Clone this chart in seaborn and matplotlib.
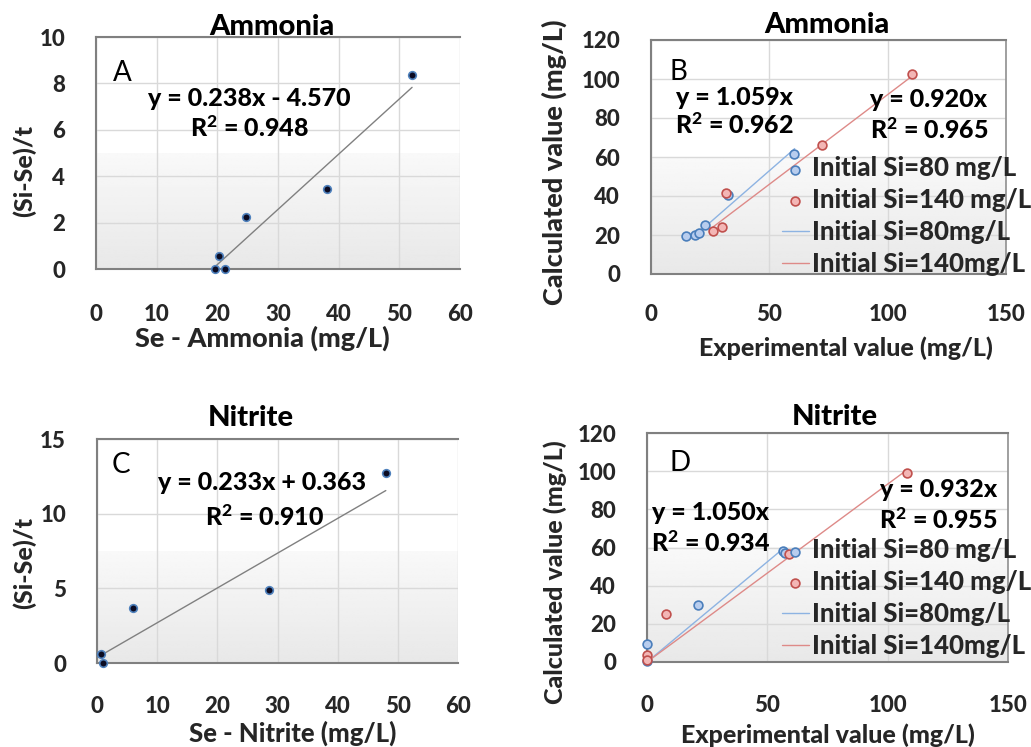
import numpy as np
import pandas as pd
import matplotlib
matplotlib.use("Agg")
import matplotlib.pyplot as plt
import seaborn as sns

# ---------------- data ----------------
# Panel A: Ammonia
a_x = [19.6, 21.3, 20.3, 24.7, 38.1, 52.1]
a_y = [0.0, 0.0, 0.55, 2.25, 3.45, 8.35]
a_slope, a_icpt = 0.238, -4.570
a_eq = ["y = 0.238x - 4.570", "R$^2$ = 0.948"]

# Panel B: Ammonia, calculated vs experimental
b80_x = [14.7, 18.5, 20.2, 22.9, 32.7, 60.4]
b80_y = [19.6, 20.0, 20.9, 25.0, 40.5, 61.5]
b140_x = [26.3, 30.2, 31.6, 72.3, 110.3]
b140_y = [22.1, 23.9, 41.7, 66.2, 102.6]
b80_slope, b140_slope = 1.059, 0.920
b80_fit_range = [23.0, 60.7]
b140_fit_range = [26.3, 110.3]
b_eq80 = ["y = 1.059x", "R$^2$ = 0.962"]
b_eq140 = ["y = 0.920x", "R$^2$ = 0.965"]

# Panel C: Nitrite
c_x = [0.6, 1.0, 6.0, 28.6, 48.0]
c_y = [0.6, 0.0, 3.7, 4.9, 12.7]
c_slope, c_icpt = 0.233, 0.363
c_fit_range = [0.0, 48.0]
c_eq = ["y = 0.233x + 0.363", "R$^2$ = 0.910"]

# Panel D: Nitrite, calculated vs experimental
d80_x = [0.0, 0.0, 21.0, 56.5, 57.5]
d80_y = [0.3, 9.6, 29.9, 58.0, 57.0]
d140_x = [0.0, 0.0, 8.0, 58.9, 108.1]
d140_y = [3.5, 0.9, 25.2, 56.7, 99.0]
d80_slope, d140_slope = 1.050, 0.932
d80_fit_range = [0.0, 56.3]
d140_fit_range = [0.0, 108.1]
d_eq80 = ["y = 1.050x", "R$^2$ = 0.934"]
d_eq140 = ["y = 0.932x", "R$^2$ = 0.955"]

legend_labels = ["Initial Si=80 mg/L", "Initial Si=140 mg/L",
                 "Initial Si=80mg/L", "Initial Si=140mg/L"]

# ---------------- style ----------------
sns.set_style("white")
plt.rcParams["font.family"] = ["Lato", "DejaVu Sans"]
plt.rcParams["font.weight"] = "black"
plt.rcParams["mathtext.default"] = "regular"

W, H = 1031, 747
fig = plt.figure(figsize=(W / 100, H / 100), dpi=100)

def px_axes(l, t, r, b):
    return fig.add_axes([l / W, (H - b) / H, (r - l) / W, (b - t) / H])

WT = "black"
TICK_FS = 16
TITLE_FS = 21
EQ_FS = 18
LEG_FS = 18.5
LET_FS = 20

BLUE_EDGE = "#4a7ebb"
BLUE_FACE = "#b8cdee"
RED_EDGE = "#c0504d"
RED_FACE = "#f3b6b5"
BLUE_LINE = "#8db3e2"
RED_LINE = "#de8a88"


def style_axes(ax, xlim, xticks, ylim, yticks, right_spine, xpad_px, ypad_px):
    ax.set_xlim(*xlim)
    ax.set_ylim(*ylim)
    ax.set_xticks(xticks)
    ax.set_yticks(yticks)
    ax.set_xticklabels([str(t) for t in xticks])
    ax.set_yticklabels([str(t) for t in yticks])
    for t in ax.get_xticklabels() + ax.get_yticklabels():
        t.set_fontsize(TICK_FS)
        t.set_fontweight(WT)
    ax.tick_params(axis="x", length=0, pad=xpad_px * 0.72)
    ax.tick_params(axis="y", length=0, pad=ypad_px * 0.72)
    ax.grid(True, color="#d9d9d9", linewidth=1.0)
    ax.set_axisbelow(True)
    for s in ["left", "top", "bottom"]:
        ax.spines[s].set_color("#808080")
        ax.spines[s].set_linewidth(1.5)
    ax.spines["right"].set_visible(right_spine)
    ax.spines["right"].set_color("#909090")
    ax.spines["right"].set_linewidth(1.2)
    # soft gray gradient in lower half of the plot area
    grad = np.linspace(0.91, 0.975, 64).reshape(-1, 1)
    ax.imshow(grad, cmap="gray", vmin=0, vmax=1, aspect="auto",
              extent=[0, 1, 0, 0.5], transform=ax.transAxes, origin="lower",
              zorder=0, interpolation="bilinear")
    ax.set_xlim(*xlim)
    ax.set_ylim(*ylim)


def labels(ax, xl, xlc, xfs, yl, ylc, yfs):
    ax.set_xlabel(xl, fontsize=xfs, fontweight=WT)
    ax.set_ylabel(yl, fontsize=yfs, fontweight=WT)
    ax.xaxis.set_label_coords(*xlc)
    ax.yaxis.set_label_coords(*ylc)
    ax.xaxis.label.set_va("center")
    ax.yaxis.label.set_va("center")


def txt(ax, x, y, s, fs=EQ_FS, weight=WT):
    ax.text(x, y, s, transform=ax.transAxes, ha="center", va="center",
            fontsize=fs, fontweight=weight, color="black", zorder=6)


# ---------------- Panel A ----------------
axA = px_axes(96, 37, 460, 269)
fitA_x = np.array([min(a_x), max(a_x)])
sns.lineplot(x=fitA_x, y=a_slope * fitA_x + a_icpt, ax=axA, color="#808080",
             linewidth=1.0, zorder=3)
sns.scatterplot(x=a_x, y=a_y, ax=axA, color="#0b0b22", edgecolor="#4f81bd",
                linewidth=1.2, s=30, zorder=4, clip_on=False)
style_axes(axA, (0, 60), [0, 10, 20, 30, 40, 50, 60], (0, 10), [0, 2, 4, 6, 8, 10],
           False, 35, 31)
labels(axA, "Se - Ammonia (mg/L)", (0.456, -0.297), 19.5,
       "(Si-Se)/t", (-0.198, 0.422), 18)
txt(axA, 0.484, 1.043, "Ammonia", fs=TITLE_FS)
txt(axA, 0.071, 0.845, "A", fs=LET_FS, weight="normal")
txt(axA, 0.420, 0.737, a_eq[0])
txt(axA, 0.420, 0.608, a_eq[1])

# ---------------- Panel B ----------------
axB = px_axes(651, 40, 1006, 274)
sns.scatterplot(x=b80_x, y=b80_y, ax=axB, color=BLUE_FACE, edgecolor=BLUE_EDGE,
                linewidth=1.2, s=40, zorder=4, label=legend_labels[0])
sns.scatterplot(x=b140_x, y=b140_y, ax=axB, color=RED_FACE, edgecolor=RED_EDGE,
                linewidth=1.2, s=40, zorder=4, label=legend_labels[1])
fb80 = np.array(b80_fit_range)
fb140 = np.array(b140_fit_range)
sns.lineplot(x=fb80, y=b80_slope * fb80, ax=axB, color=BLUE_LINE, linewidth=1.0,
             zorder=3, label=legend_labels[2])
sns.lineplot(x=fb140, y=b140_slope * fb140, ax=axB, color=RED_LINE, linewidth=1.0,
             zorder=3, label=legend_labels[3])
style_axes(axB, (0, 150), [0, 50, 100, 150], (0, 120), [0, 20, 40, 60, 80, 100, 120],
           True, 30, 31)
labels(axB, "Experimental value (mg/L)", (0.549, -0.316), 18,
       "Calculated value (mg/L)", (-0.273, 0.479), 19.5)
txt(axB, 0.496, 1.064, "Ammonia", fs=TITLE_FS)
txt(axB, 0.076, 0.863, "B", fs=LET_FS, weight="normal")
txt(axB, 0.234, 0.756, b_eq80[0])
txt(axB, 0.234, 0.637, b_eq80[1])
txt(axB, 0.783, 0.744, b_eq140[0])
txt(axB, 0.783, 0.615, b_eq140[1])

# ---------------- Panel C ----------------
axC = px_axes(97, 439, 458, 663)
fc = np.array(c_fit_range)
sns.lineplot(x=fc, y=c_slope * fc + c_icpt, ax=axC, color="#808080",
             linewidth=1.0, zorder=3)
sns.scatterplot(x=c_x, y=c_y, ax=axC, color="#0b0b22", edgecolor="#4f81bd",
                linewidth=1.2, s=30, zorder=4, clip_on=False)
style_axes(axC, (0, 60), [0, 10, 20, 30, 40, 50, 60], (0, 15), [0, 5, 10, 15],
           False, 33, 31)
labels(axC, "Se - Nitrite (mg/L)", (0.543, -0.312), 18.5,
       "(Si-Se)/t", (-0.202, 0.446), 18)
txt(axC, 0.427, 1.094, "Nitrite", fs=TITLE_FS)
txt(axC, 0.066, 0.884, "C", fs=LET_FS, weight="normal")
txt(axC, 0.458, 0.804, c_eq[0])
txt(axC, 0.464, 0.652, c_eq[1])

# ---------------- Panel D ----------------
axD = px_axes(647, 433, 1008, 662)
sns.scatterplot(x=d80_x, y=d80_y, ax=axD, color=BLUE_FACE, edgecolor=BLUE_EDGE,
                linewidth=1.2, s=40, zorder=4, label=legend_labels[0], clip_on=False)
sns.scatterplot(x=d140_x, y=d140_y, ax=axD, color=RED_FACE, edgecolor=RED_EDGE,
                linewidth=1.2, s=40, zorder=4, label=legend_labels[1], clip_on=False)
fd80 = np.array(d80_fit_range)
fd140 = np.array(d140_fit_range)
sns.lineplot(x=fd80, y=d80_slope * fd80, ax=axD, color=BLUE_LINE, linewidth=1.0,
             zorder=3, label=legend_labels[2])
sns.lineplot(x=fd140, y=d140_slope * fd140, ax=axD, color=RED_LINE, linewidth=1.0,
             zorder=3, label=legend_labels[3])
style_axes(axD, (0, 150), [0, 50, 100, 150], (0, 120), [0, 20, 40, 60, 80, 100, 120],
           True, 33, 31)
labels(axD, "Experimental value (mg/L)", (0.501, -0.318), 18,
       "Calculated value (mg/L)", (-0.255, 0.393), 18)
txt(axD, 0.521, 1.070, "Nitrite", fs=TITLE_FS)
txt(axD, 0.091, 0.869, "D", fs=LET_FS, weight="normal")
txt(axD, 0.177, 0.651, d_eq80[0])
txt(axD, 0.177, 0.520, d_eq80[1])
txt(axD, 0.807, 0.755, d_eq140[0])
txt(axD, 0.807, 0.620, d_eq140[1])

# legends
for ax, top_px, axtop, axh in [(axB, 167, 40, 234), (axD, 549, 433, 229)]:
    h, l = ax.get_legend_handles_labels()
    pos = ax.get_position()
    leg = ax.legend(h, l, loc="center left",
                    bbox_to_anchor=((782 - pos.x0 * W) / (pos.width * W),
                                    1 - (top_px + 49 - axtop) / axh),
                    frameon=False, handlelength=1.05, handletextpad=0.1,
                    labelspacing=0.3, borderaxespad=0, borderpad=0,
                    prop={"weight": WT, "size": LEG_FS})
    leg.set_zorder(7)

fig.savefig("out.png", dpi=100)
